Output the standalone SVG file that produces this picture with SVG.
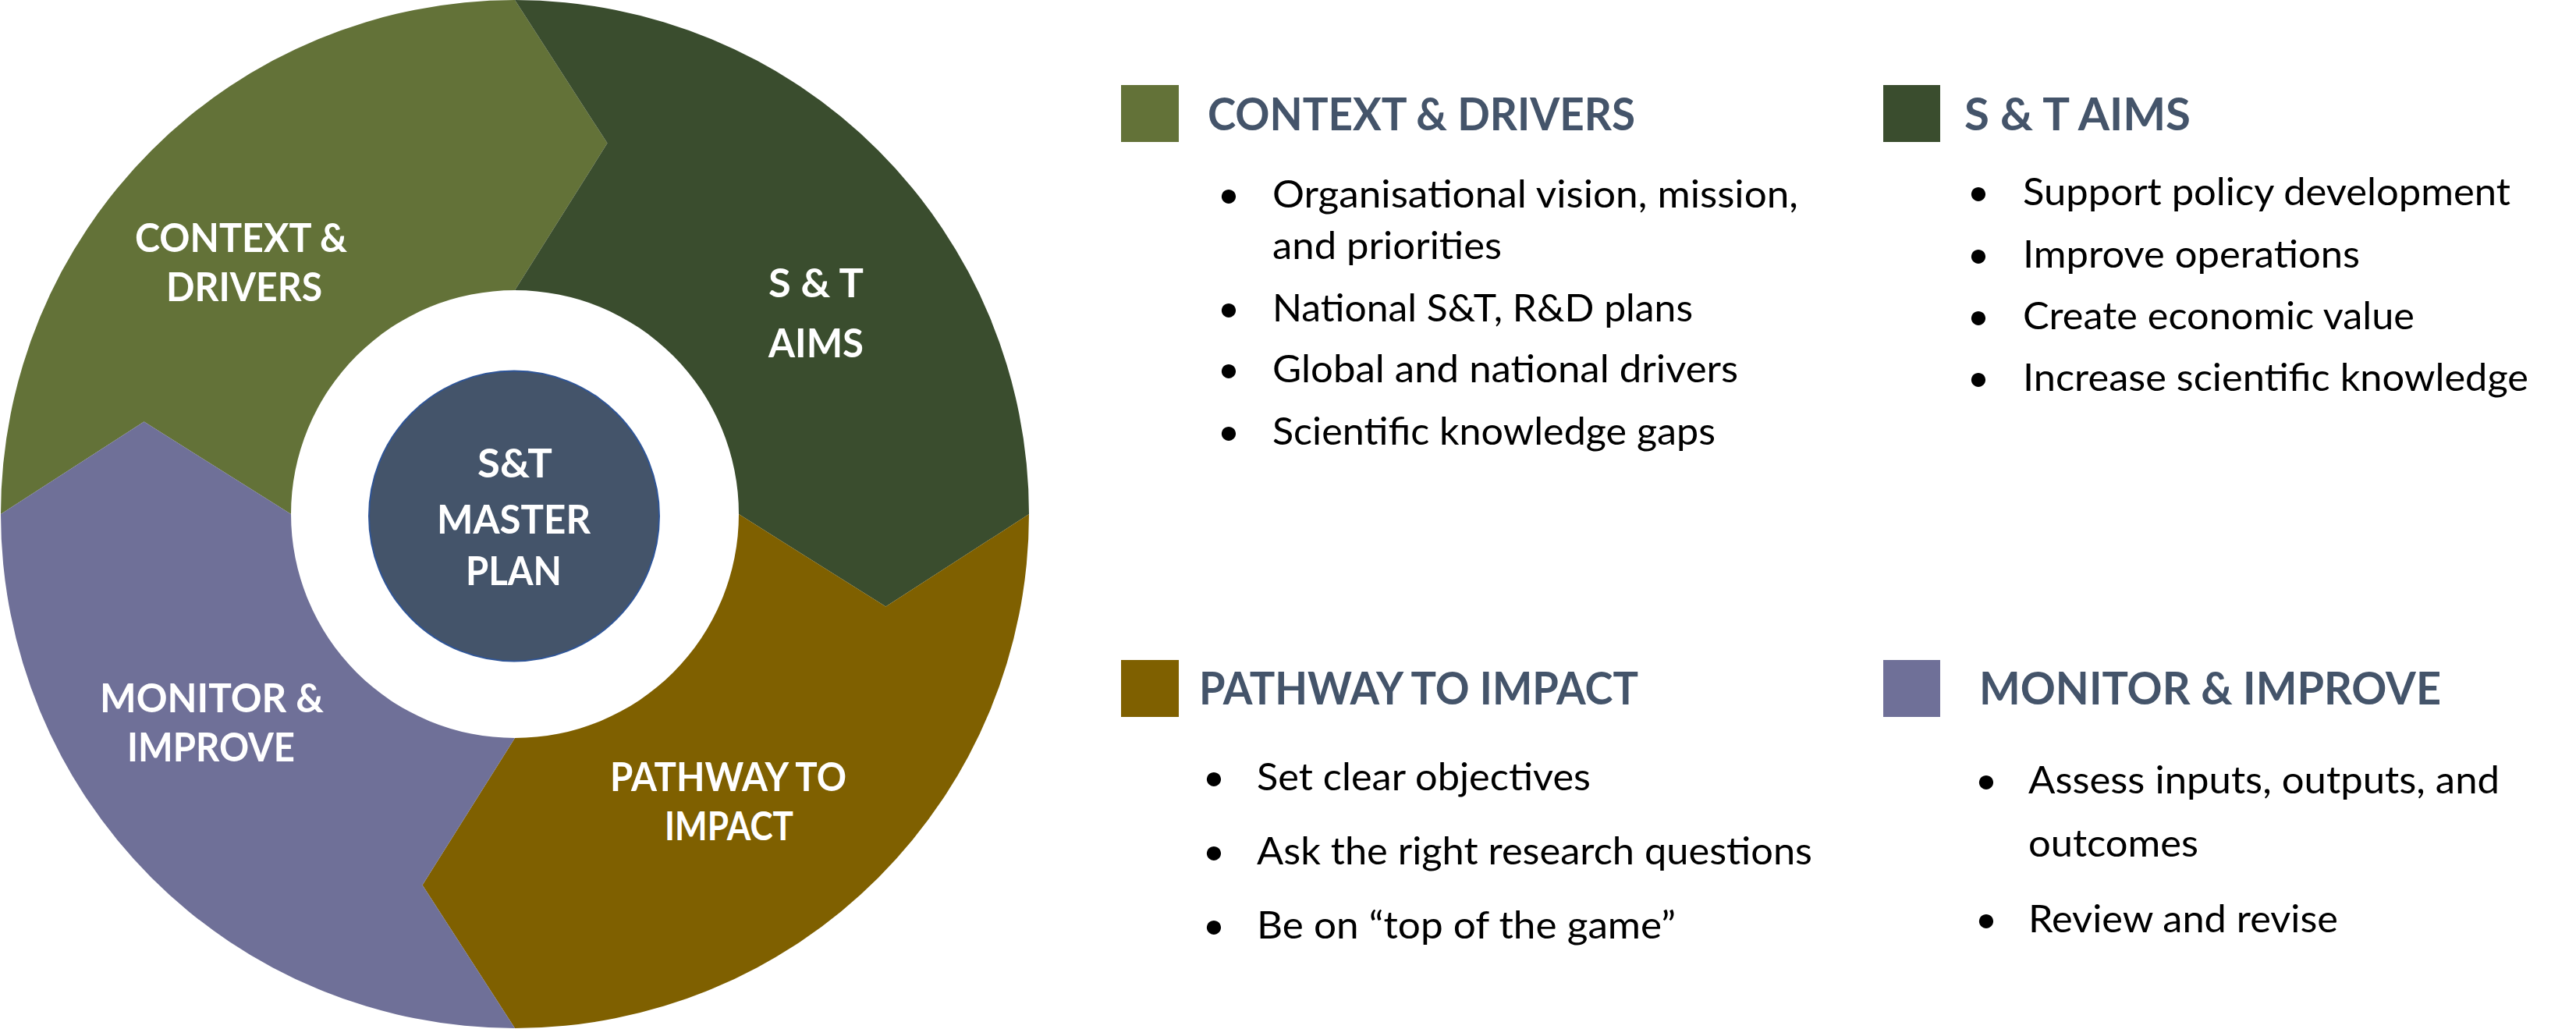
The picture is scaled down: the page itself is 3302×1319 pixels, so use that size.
<svg xmlns="http://www.w3.org/2000/svg" width="3302" height="1319" viewBox="0 0 3302 1319">
<style>
.ring{font-family:Lato,"Open Sans","Liberation Sans",sans-serif;font-weight:700;font-size:52px;fill:#ffffff;text-anchor:middle}
.head{font-family:Lato,"Open Sans","Liberation Sans",sans-serif;font-weight:700;font-size:58px;fill:#44546a}
.item{font-family:Lato,"Open Sans","Liberation Sans",sans-serif;font-size:49px;fill:#000000}
.dot{font-family:Lato,"Open Sans","Liberation Sans",sans-serif;font-size:49px;fill:#000000;text-anchor:middle}
.c1{fill:#637238}.c2{fill:#3a4d2e}.c3{fill:#7f6000}.c4{fill:#6f7098}
</style>
<rect width="3302" height="1319" fill="#ffffff"/>
<g id="connectors"/>
<g id="seg-context">
<path class="c1" d="M1,659 A659,659 0 0 1 660,0 L778.5,183.6 L660,372 A287,287 0 0 0 373,659 L184.6,540.5 Z"/>
<text class="ring" x="309" y="323" textLength="272" lengthAdjust="spacingAndGlyphs">CONTEXT &amp;</text>
<text class="ring" x="313" y="386" textLength="200" lengthAdjust="spacingAndGlyphs">DRIVERS</text>
</g>
<g id="seg-aims">
<path class="c2" d="M660,0 A659,659 0 0 1 1319,659 L1135.4,777.5 L947,659 A287,287 0 0 0 660,372 L778.5,183.6 Z"/>
<text class="ring" x="1046" y="381" textLength="122" lengthAdjust="spacingAndGlyphs">S &amp; T</text>
<text class="ring" x="1046" y="458" textLength="122" lengthAdjust="spacingAndGlyphs">AIMS</text>
</g>
<g id="seg-pathway">
<path class="c3" d="M1319,659 A659,659 0 0 1 660,1318 L541.5,1134.4 L660,946 A287,287 0 0 0 947,659 L1135.4,777.5 Z"/>
<text class="ring" x="933.5" y="1014" textLength="303" lengthAdjust="spacingAndGlyphs">PATHWAY TO</text>
<text class="ring" x="934.5" y="1077" textLength="165" lengthAdjust="spacingAndGlyphs">IMPACT</text>
</g>
<g id="seg-monitor">
<path class="c4" d="M660,1318 A659,659 0 0 1 1,659 L184.6,540.5 L373,659 A287,287 0 0 0 660,946 L541.5,1134.4 Z"/>
<text class="ring" x="271.5" y="913" textLength="287" lengthAdjust="spacingAndGlyphs">MONITOR &amp;</text>
<text class="ring" x="270.5" y="976" textLength="215" lengthAdjust="spacingAndGlyphs">IMPROVE</text>
</g>
<g id="center">
<circle cx="659" cy="661.5" r="186" fill="#44546a" stroke="#2f5597" stroke-width="2"/>
<text class="ring" x="660" y="612" textLength="96" lengthAdjust="spacingAndGlyphs">S&amp;T</text>
<text class="ring" x="658.5" y="684" textLength="197" lengthAdjust="spacingAndGlyphs">MASTER</text>
<text class="ring" x="658.5" y="750" textLength="123" lengthAdjust="spacingAndGlyphs">PLAN</text>
</g>
<g id="legend-context">
<rect class="c1" x="1437" y="109" width="74" height="73"/>
<text class="head" x="1548" y="167" textLength="548" lengthAdjust="spacingAndGlyphs">CONTEXT &amp; DRIVERS</text>
<text class="dot" x="1575" y="266">•</text>
<text class="item" x="1631" y="266" textLength="674" lengthAdjust="spacingAndGlyphs">Organisational vision, mission,</text>
<text class="item" x="1631" y="332" textLength="294" lengthAdjust="spacingAndGlyphs">and priorities</text>
<text class="dot" x="1575" y="412">•</text>
<text class="item" x="1631" y="412" textLength="539" lengthAdjust="spacingAndGlyphs">National S&amp;T, R&amp;D plans</text>
<text class="dot" x="1575" y="490">•</text>
<text class="item" x="1631" y="490" textLength="597" lengthAdjust="spacingAndGlyphs">Global and national drivers</text>
<text class="dot" x="1575" y="570">•</text>
<text class="item" x="1631" y="570" textLength="568" lengthAdjust="spacingAndGlyphs">Scientific knowledge gaps</text>
</g>
<g id="legend-aims">
<rect class="c2" x="2414" y="109" width="73" height="73"/>
<text class="head" x="2518" y="167" textLength="290" lengthAdjust="spacingAndGlyphs">S &amp; T AIMS</text>
<text class="dot" x="2536" y="263">•</text>
<text class="item" x="2593" y="263" textLength="625" lengthAdjust="spacingAndGlyphs">Support policy development</text>
<text class="dot" x="2536" y="343">•</text>
<text class="item" x="2593" y="343" textLength="432" lengthAdjust="spacingAndGlyphs">Improve operations</text>
<text class="dot" x="2536" y="422">•</text>
<text class="item" x="2593" y="422" textLength="502" lengthAdjust="spacingAndGlyphs">Create economic value</text>
<text class="dot" x="2536" y="501">•</text>
<text class="item" x="2593" y="501" textLength="648" lengthAdjust="spacingAndGlyphs">Increase scientific knowledge</text>
</g>
<g id="legend-pathway">
<rect class="c3" x="1437" y="846" width="74" height="73"/>
<text class="head" x="1537" y="903" textLength="563" lengthAdjust="spacingAndGlyphs">PATHWAY TO IMPACT</text>
<text class="dot" x="1556" y="1013">•</text>
<text class="item" x="1611" y="1013" textLength="428" lengthAdjust="spacingAndGlyphs">Set clear objectives</text>
<text class="dot" x="1556" y="1108">•</text>
<text class="item" x="1611" y="1108" textLength="712" lengthAdjust="spacingAndGlyphs">Ask the right research questions</text>
<text class="dot" x="1556" y="1203">•</text>
<text class="item" x="1611" y="1203" textLength="537" lengthAdjust="spacingAndGlyphs">Be on “top of the game”</text>
</g>
<g id="legend-monitor">
<rect class="c4" x="2414" y="846" width="73" height="73"/>
<text class="head" x="2537" y="903" textLength="592" lengthAdjust="spacingAndGlyphs">MONITOR &amp; IMPROVE</text>
<text class="dot" x="2546" y="1017">•</text>
<text class="item" x="2600" y="1017" textLength="604" lengthAdjust="spacingAndGlyphs">Assess inputs, outputs, and</text>
<text class="item" x="2600" y="1098" textLength="218" lengthAdjust="spacingAndGlyphs">outcomes</text>
<text class="dot" x="2546" y="1195">•</text>
<text class="item" x="2600" y="1195" textLength="397" lengthAdjust="spacingAndGlyphs">Review and revise</text>
</g>
</svg>
